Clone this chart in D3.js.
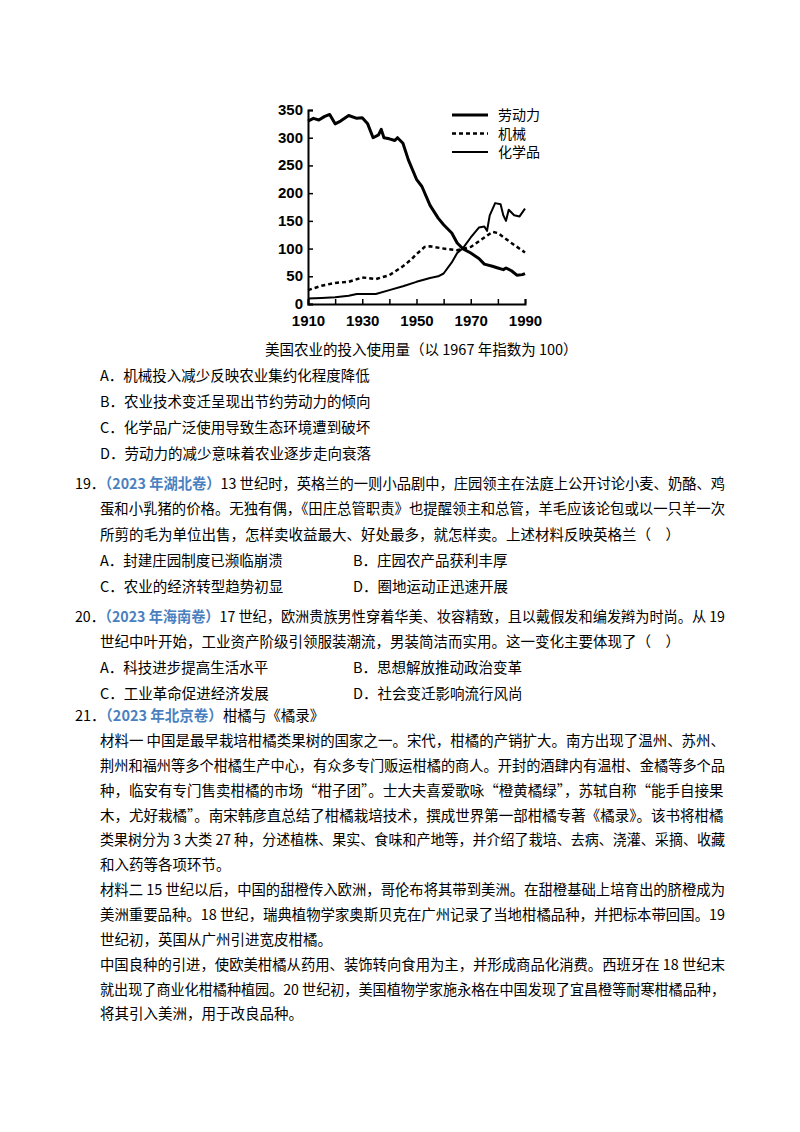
<!DOCTYPE html>
<html><head><meta charset="utf-8">
<script src="https://cdn.jsdelivr.net/npm/d3@7"></script>
<style>body{margin:0;background:#fff}</style>
</head><body>
<svg id="c" width="800" height="1132"></svg>
<script>
// data (index, 1967 = 100)
var labor = [[1910,330],[1912,335],[1914,332],[1916,338],[1918,342],[1920,325],[1922,330],[1925,340],[1928,335],[1930,336],[1932,325],[1934,300],[1936,305],[1937,315],[1938,300],[1940,298],[1942,295],[1943,300],[1945,290],[1947,260],[1950,225],[1952,212],[1955,178],[1958,155],[1960,143],[1963,128],[1965,110],[1967,100],[1970,92],[1973,82],[1975,72],[1978,68],[1980,65],[1982,62],[1983,65],[1985,60],[1987,52],[1989,53],[1990,55]]
var machinery = [[1910,25],[1915,33],[1920,38],[1925,40],[1930,48],[1935,45],[1940,52],[1945,68],[1948,80],[1950,90],[1953,103],[1955,104],[1960,100],[1965,97],[1970,103],[1975,120],[1978,130],[1980,128],[1985,110],[1990,93]]
var chemicals = [[1910,10],[1915,11],[1920,12],[1925,15],[1928,18],[1935,18],[1940,25],[1945,32],[1950,40],[1955,47],[1958,50],[1960,55],[1963,75],[1965,92],[1967,100],[1970,120],[1973,138],[1975,140],[1976,132],[1977,160],[1979,182],[1981,180],[1982,160],[1983,150],[1984,170],[1986,160],[1988,158],[1990,172]]
var xTicks = [1910,1930,1950,1970,1990]
var yTicks = [0,50,100,150,200,250,300,350]
var legendNames = ["劳动力","机械","化学品"]

var svg = d3.select("#c")
var x = d3.scaleLinear().domain([1910,1990]).range([308,525])
var y = d3.scaleLinear().domain([0,350]).range([304,110])
var g = svg.append("g").style("font-family","'Liberation Sans',Arial").style("font-size","15px").style("font-weight","bold")

var xa = g.append("g").attr("transform","translate(0,304)")
  .call(d3.axisBottom(x).tickValues(d3.range(1910,1991,10)).tickSize(-5).tickFormat(function(d){return xTicks.indexOf(d)>=0?d:""}))
var ya = g.append("g").attr("transform","translate(308,0)")
  .call(d3.axisLeft(y).tickValues(yTicks).tickSize(-5))
svg.selectAll(".domain").attr("stroke","#000").attr("stroke-width",2)
svg.selectAll(".tick line").attr("stroke","#000").attr("stroke-width",1.5)
svg.selectAll(".tick text").attr("fill","#000").style("font-size","15px")
xa.selectAll(".tick text").attr("y",8).attr("dy","0.95em")
ya.selectAll(".tick text").attr("x",-5).attr("dy","0.3em")

var line = d3.line().x(function(d){return x(d[0])}).y(function(d){return y(d[1])})
var series = [[labor,3,null],[machinery,2.5,"4,3"],[chemicals,2,null]]
series.forEach(function(s){
  svg.append("path").datum(s[0]).attr("d",line).attr("fill","none").attr("stroke","#000")
    .attr("stroke-width",s[1]).attr("stroke-dasharray",s[2]).attr("stroke-linejoin","round")
})
legendNames.forEach(function(n,i){
  var yy = 115 + i*18.5
  svg.append("line").attr("x1",452).attr("x2",488).attr("y1",yy).attr("y2",yy).attr("stroke","#000")
    .attr("stroke-width",series[i][1]).attr("stroke-dasharray",series[i][2])
  svg.append("text").attr("x",498).attr("y",yy+5).text(n).style("font-family","'Noto Sans CJK SC'").style("font-size","14px")
})

// page text
var blue = "#4a7fc0"
var lines = [
  [265,355,"美国农业的投入使用量（以 1967 年指数为 100）"],
  [100,381,"A．机械投入减少反映农业集约化程度降低"],
  [100,407,"B．农业技术变迁呈现出节约劳动力的倾向"],
  [100,433,"C．化学品广泛使用导致生态环境遭到破坏"],
  [100,459,"D．劳动力的减少意味着农业逐步走向衰落"],
  [75,489,"19．",1,"（2023 年湖北卷）","13 世纪时，英格兰的一则小品剧中，庄园领主在法庭上公开讨论小麦、奶酪、鸡"],
  [100,514,"蛋和小乳猪的价格。无独有偶，《田庄总管职责》也提醒领主和总管，羊毛应该论包或以一只羊一次"],
  [100,540,"所剪的毛为单位出售，怎样卖收益最大、好处最多，就怎样卖。上述材料反映英格兰（　）"],
  [100,566,"A．封建庄园制度已濒临崩溃"],[353,566,"B．庄园农产品获利丰厚"],
  [100,592,"C．农业的经济转型趋势初显"],[353,592,"D．圈地运动正迅速开展"],
  [75,622,"20．",1,"（2023 年海南卷）","17 世纪，欧洲贵族男性穿着华美、妆容精致，且以戴假发和编发辫为时尚。从 19"],
  [100,647,"世纪中叶开始，工业资产阶级引领服装潮流，男装简洁而实用。这一变化主要体现了（　）"],
  [100,673,"A．科技进步提高生活水平"],[353,673,"B．思想解放推动政治变革"],
  [100,699,"C．工业革命促进经济发展"],[353,699,"D．社会变迁影响流行风尚"],
  [75,721,"21．",1,"（2023 年北京卷）","柑橘与《橘录》"],
  [100,746,"材料一  中国是最早栽培柑橘类果树的国家之一。宋代，柑橘的产销扩大。南方出现了温州、苏州、"],
  [100,771,"荆州和福州等多个柑橘生产中心，有众多专门贩运柑橘的商人。开封的酒肆内有温柑、金橘等多个品"],
  [100,796,"种，临安有专门售卖柑橘的市场“柑子团”。士大夫喜爱歌咏“橙黄橘绿”，苏轼自称“能手自接果"],
  [100,821,"木，尤好栽橘”。南宋韩彦直总结了柑橘栽培技术，撰成世界第一部柑橘专著《橘录》。该书将柑橘"],
  [100,845,"类果树分为 3 大类 27 种，分述植株、果实、食味和产地等，并介绍了栽培、去病、浇灌、采摘、收藏"],
  [100,870,"和入药等各项环节。"],
  [100,895,"材料二  15 世纪以后，中国的甜橙传入欧洲，哥伦布将其带到美洲。在甜橙基础上培育出的脐橙成为"],
  [100,920,"美洲重要品种。18 世纪，瑞典植物学家奥斯贝克在广州记录了当地柑橘品种，并把标本带回国。19"],
  [100,945,"世纪初，英国从广州引进宽皮柑橘。"],
  [100,970,"中国良种的引进，使欧美柑橘从药用、装饰转向食用为主，并形成商品化消费。西班牙在 18 世纪末"],
  [100,995,"就出现了商业化柑橘种植园。20 世纪初，美国植物学家施永格在中国发现了宜昌橙等耐寒柑橘品种，"],
  [100,1019,"将其引入美洲，用于改良品种。"]
]
var tg = svg.append("g").style("font-family","'Noto Sans CJK SC','Liberation Serif'").style("font-size","14.5px")
lines.forEach(function(l){
  var full = l[3] ? l[2]+l[4]+l[5] : l[2]
  var t = tg.append("text").attr("x",l[0]).attr("y",l[1])
  if (l[3]) {
    t.append("tspan").text(l[2])
    t.append("tspan").attr("fill",blue).attr("font-weight","bold").text(l[4])
    t.append("tspan").text(l[5])
  } else t.text(l[2])
  // keep long lines within the right margin
  var w = t.node().getComputedTextLength()
  if (full.length > 40 && w > 725 - l[0]) t.attr("textLength",725-l[0]).attr("lengthAdjust","spacingAndGlyphs")
})
</script>
</body></html>
